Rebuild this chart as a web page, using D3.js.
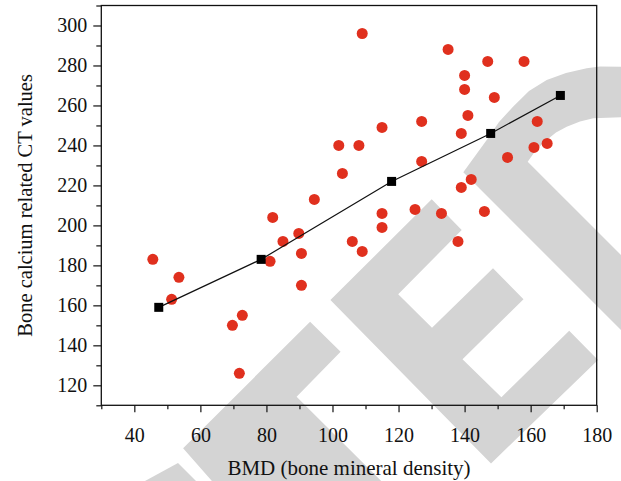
<!DOCTYPE html>
<meta charset="utf-8">
<style>
body { margin: 0; background: #fff; }
text { font-family: "Liberation Serif", "DejaVu Serif", serif; fill: #111; }
</style>
<body>
<script src="https://cdn.jsdelivr.net/npm/d3@7"></script>
<script>
var width = 621
var height = 481
var margin = {top: 5.5, right: 24.3, bottom: 75.7, left: 101.3}

// measured points: BMD vs bone calcium related CT value
var bmd = [45.6, 51.3, 53.5, 69.7, 72.7, 71.8, 81.1, 81.9, 85.0, 89.8, 90.6, 90.6,
    94.5, 101.9, 103.0, 106.0, 108.0, 109.0, 109.0, 115.0, 115.0, 115.0, 125.0, 127.0,
    127.0, 133.0, 135.0, 138.0, 139.0, 139.0, 140.0, 140.0, 141.0, 142.0, 146.0, 147.0,
    149.0, 153.0, 158.0, 161.0, 162.0, 165.0]
var ct = [183, 163, 174, 150, 155, 126, 182, 204, 192, 196, 186, 170,
    213, 240, 226, 192, 240, 296, 187, 249, 206, 199, 208, 252,
    232, 206, 288, 192, 219, 246, 275, 268, 255, 223, 207, 282,
    264, 234, 282, 239, 252, 241]

// group means (black squares)
var meanBmd = [47.4, 78.4, 117.9, 147.9, 169.0]
var meanCt = [159, 183, 222, 246, 265]

var xTicks = [40, 60, 80, 100, 120, 140, 160, 180]
var xMinor = [30, 50, 70, 90, 110, 130, 150, 170]
var yTicks = [120, 140, 160, 180, 200, 220, 240, 260, 280, 300]
var yMinor = [110, 130, 150, 170, 190, 210, 230, 250, 270, 290, 310]

// grey watermark behind the plot (page pixels)
var watermark = [
    [[330.4, 300], [431.7, 199.3], [461.7, 230], [398.2, 294.3], [432, 327.7], [493, 268.3],
     [523.5, 299.3], [462.5, 359.3], [501.4, 397.3], [569.2, 330.7], [598, 360], [491, 463.5]],
    [[310.1, 321.7], [340.6, 351.7], [296.6, 396.7], [381.2, 481], [211.9, 481], [183.1, 448.3]],
    [[178, 463], [196, 481], [145, 481]],
    [[621, 66.7], [600, 66.5], [586.7, 68.3], [566, 73], [546.7, 80], [529, 91], [513, 106.7],
     [499, 122], [486.7, 140], [463.3, 172.3],
     [621, 330], [621, 255], [527.7, 161.7], [536, 150], [546.7, 140], [556, 132.5],
     [566.7, 126.7], [580, 121.5], [593.3, 118.3], [621, 117.3]]
]

var svg = d3.select('body')
    .append('svg')
    .attr('width', width)
    .attr('height', height)

svg.selectAll('.wm')
    .data(watermark)
    .enter().append('path')
    .attr('class', 'wm')
    .attr('d', function (d) { return d3.line()(d) + 'Z' })
    .attr('fill', '#d4d4d4')

var x = d3.scaleLinear()
    .domain([30, 180])
    .range([margin.left, width - margin.right])

var y = d3.scaleLinear()
    .domain([110, 310])
    .range([height - margin.bottom, margin.top])

var g = svg.append('g')

function styleAxis(sel) {
    sel.select('.domain').remove()
    sel.selectAll('line').attr('stroke', '#111').attr('stroke-width', 1.2)
    sel.selectAll('text').style('font-size', '20px')
}

g.append('g')
    .attr('transform', 'translate(0,' + y.range()[0] + ')')
    .call(d3.axisBottom(x).tickValues(xMinor).tickSize(4).tickFormat(''))
    .call(styleAxis)

g.append('g')
    .attr('transform', 'translate(0,' + y.range()[0] + ')')
    .call(d3.axisBottom(x).tickValues(xTicks).tickSize(7).tickPadding(16))
    .call(styleAxis)

g.append('g')
    .attr('transform', 'translate(' + x.range()[0] + ',0)')
    .call(d3.axisLeft(y).tickValues(yMinor).tickSize(5).tickFormat(''))
    .call(styleAxis)

g.append('g')
    .attr('transform', 'translate(' + x.range()[0] + ',0)')
    .call(d3.axisLeft(y).tickValues(yTicks).tickSize(8).tickPadding(6))
    .call(styleAxis)

// frame
g.append('rect')
    .attr('x', x.range()[0])
    .attr('y', y.range()[1])
    .attr('width', x.range()[1] - x.range()[0])
    .attr('height', y.range()[0] - y.range()[1])
    .attr('fill', 'none')
    .attr('stroke', '#111')
    .attr('stroke-width', 1.3)

// axis titles
svg.append('text')
    .attr('x', (x.range()[0] + x.range()[1]) / 2)
    .attr('y', 475)
    .attr('text-anchor', 'middle')
    .style('font-size', '21px')
    .text('BMD (bone mineral density)')

svg.append('text')
    .attr('transform', 'translate(32,' + ((y.range()[0] + y.range()[1]) / 2) + ') rotate(-90)')
    .attr('text-anchor', 'middle')
    .style('font-size', '20.5px')
    .text('Bone calcium related CT values')

// scatter
var points = bmd.map(function (d, i) { return {x: d, y: ct[i]} })

g.selectAll('.dot')
    .data(points)
    .enter().append('circle')
    .attr('class', 'dot')
    .attr('cx', function (d) { return x(d.x) })
    .attr('cy', function (d) { return y(d.y) })
    .attr('r', 5.5)
    .attr('fill', '#e0301e')

// mean line with squares
var means = meanBmd.map(function (d, i) { return {x: d, y: meanCt[i]} })

g.append('path')
    .datum(means)
    .attr('d', d3.line()
        .x(function (d) { return x(d.x) })
        .y(function (d) { return y(d.y) }))
    .attr('fill', 'none')
    .attr('stroke', '#111')
    .attr('stroke-width', 1.2)

g.selectAll('.sq')
    .data(means)
    .enter().append('rect')
    .attr('class', 'sq')
    .attr('x', function (d) { return x(d.x) - 4.5 })
    .attr('y', function (d) { return y(d.y) - 4.5 })
    .attr('width', 9)
    .attr('height', 9)
    .attr('fill', '#000')
</script>
</body>
